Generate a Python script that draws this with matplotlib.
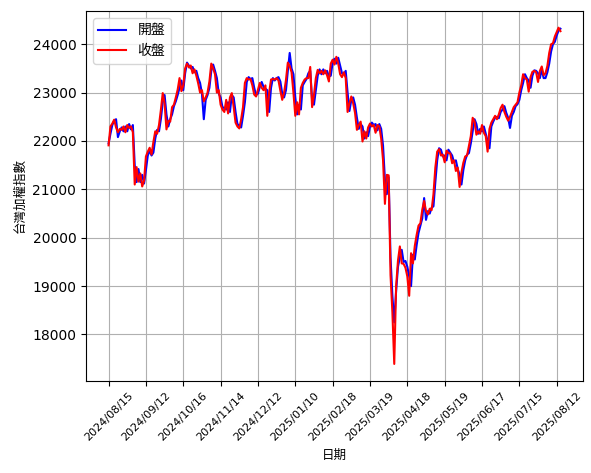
import numpy as np
import pandas as pd
import matplotlib
matplotlib.use("Agg")
import matplotlib.pyplot as plt

plt.rcParams["font.family"] = ["DejaVu Sans", "Noto Sans CJK TC"]

# trading days: weekdays minus market closures
start_date = "2024-08-15"
end_date = "2025-08-14"
closed_days = [
    "2024-09-17", "2024-10-02", "2024-10-03", "2024-10-10", "2024-10-31",
    "2025-01-01", "2025-01-23", "2025-01-24", "2025-01-27", "2025-01-28",
    "2025-01-29", "2025-01-30", "2025-01-31", "2025-02-28", "2025-04-03",
    "2025-04-04", "2025-05-01", "2025-05-30",
]

close_px = [
    21910, 22300, 22360, 22440, 22280, 22180, 22250, 22230, 22300, 22180,
    22330, 22270, 22300, 22180, 21100, 21460, 21160, 21330, 21060, 21180,
    21680, 21780, 21860, 21720, 21980, 22200, 22150, 22330, 22640, 22990,
    22770, 22240, 22420, 22400, 22700, 22750, 22900, 23060, 23300, 23030,
    23150, 23500, 23600, 23520, 23560, 23400, 23480, 23350, 23190, 23000,
    23050, 22820, 22900, 23000, 23230, 23600, 23500, 23380, 23000, 23050,
    22750, 22650, 22600, 22850, 22570, 22900, 22990, 22700, 22380, 22300,
    22260, 22450, 22700, 23200, 23300, 23270, 23280, 23150, 22960, 22920,
    23060, 23200, 23100, 23050, 23150, 22520, 23000, 23270, 23280, 23270,
    23300, 23250, 23040, 22850, 23000, 23260, 23620, 23550, 23420, 23000,
    22520, 22800, 22550, 23100, 23200, 23270, 23300, 23300, 23530, 22700,
    22950, 23300, 23470, 23400, 23450, 23380, 23460, 23360, 23230, 23600,
    23680, 23580, 23740, 23600, 23380, 23320, 23420, 23300, 22600, 22780,
    22920, 22780, 22580, 22230, 22330, 22400, 21990, 22200, 22050, 22280,
    22360, 22300, 22330, 22170, 22330, 22300, 22050, 21600, 20700, 21300,
    21290, 19230, 18460, 17391, 19000, 19530, 19820, 19470, 19460, 19380,
    19200, 18800, 19680, 19470, 19830, 20060, 20250, 20300, 20580, 20760,
    20550, 20480, 20600, 20570, 20900, 21450, 21780, 21830, 21700, 21720,
    21560, 21800, 21750, 21740, 21540, 21600, 21380, 21450, 21050, 21350,
    21550, 21680, 21700, 21900, 22100, 22480, 22400, 22130, 22200, 22150,
    22330, 22170, 22100, 21780, 22250, 22380, 22450, 22520, 22450, 22550,
    22680, 22750, 22600, 22500, 22420, 22500, 22600, 22700, 22750, 22800,
    23000, 23150, 23380, 23300, 23270, 23020, 23320, 23430, 23450, 23420,
    23220, 23450, 23540, 23360, 23400, 23550, 23820, 24000, 24020, 24160,
    24250, 24342, 24270,
]

open_px = [
    21950, 22150, 22330, 22420, 22450, 22080, 22200, 22280, 22200, 22300,
    22200, 22350, 22240, 22330, 21500, 21150, 21420, 21150, 21300, 21120,
    21400, 21700, 21800, 21700, 21760, 22050, 22230, 22200, 22450, 22800,
    22950, 22550, 22300, 22450, 22550, 22720, 22820, 22950, 23100, 23250,
    23050, 23400, 23620, 23560, 23500, 23530, 23420, 23450, 23300, 23200,
    22980, 22450, 22850, 22950, 23100, 23450, 23580, 23450, 23300, 22980,
    22900, 22700, 22680, 22650, 22800, 22600, 22950, 22900, 22600, 22350,
    22320, 22280, 22520, 22800, 23220, 23320, 23280, 23300, 23100, 22950,
    22980, 23120, 23220, 23120, 23080, 23050, 22600, 23100, 23300, 23250,
    23300, 23320, 23230, 22980, 22900, 23050, 23450, 23820, 23500, 23380,
    22900, 22550, 22750, 22650, 23150, 23220, 23280, 23400, 23450, 22850,
    22750, 23050, 23350, 23480, 23380, 23480, 23400, 23450, 23330, 23350,
    23620, 23700, 23600, 23720, 23560, 23400, 23380, 23450, 23000, 22620,
    22850, 22900, 22750, 22480, 22250, 22350, 22300, 22050, 22180, 22100,
    22300, 22380, 22330, 22350, 22220, 22350, 22250, 21900, 21200, 20900,
    21250, 19600, 18800, 18250, 18900, 19400, 19600, 19750, 19500, 19520,
    19400, 19200, 19000, 19650, 19550, 19850, 20100, 20250, 20400, 20820,
    20370, 20550, 20500, 20620, 20650, 21150, 21600, 21850, 21820, 21680,
    21700, 21600, 21820, 21760, 21700, 21560, 21600, 21420, 21300, 21100,
    21400, 21600, 21720, 21750, 21950, 22200, 22450, 22350, 22150, 22250,
    22200, 22300, 22150, 22000, 21850, 22300, 22400, 22480, 22500, 22470,
    22600, 22650, 22720, 22580, 22480, 22270, 22520, 22600, 22720, 22760,
    22850, 23050, 23200, 23380, 23300, 23250, 23100, 23350, 23460, 23450,
    23400, 23300, 23480, 23300, 23300, 23420, 23600, 23850, 24000, 24050,
    24180, 24280, 24320,
]

days = pd.bdate_range(start_date, end_date)
days = days[~days.isin(pd.to_datetime(closed_days))]
dates = [d.strftime("%Y/%m/%d") for d in days][:len(close_px)]

fig = plt.figure(figsize=(5.91, 4.73), dpi=100)
ax = fig.add_axes([0.1455, 0.195, 0.841, 0.782])

ax.plot(dates, open_px, color="blue", label="開盤")
ax.plot(dates, close_px, color="red", label="收盤")

ax.set_xticks(dates[::20])
ax.tick_params(axis="x", labelrotation=45, labelsize=8)
ax.set_xlabel("日期", fontsize=9)
ax.set_ylabel("台灣加權指數", fontsize=9)
ax.grid(True)
ax.legend(loc="upper left")

plt.savefig("out.png", dpi=100)
